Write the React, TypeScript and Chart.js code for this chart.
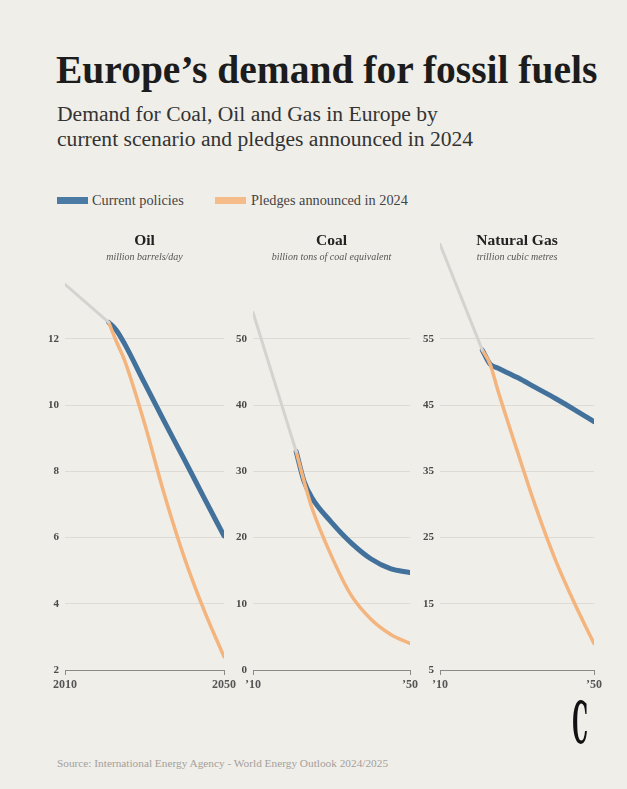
import React, { useEffect, useRef } from 'react';
import { Chart, registerables } from 'chart.js';

Chart.register(...registerables);

// ---------- DATA ----------
const axisYears = [2010, 2050];
const histYears = [2010, 2021];
const projYears = [2021, 2023, 2025, 2030, 2035, 2040, 2045, 2050];

// Oil – million barrels/day
const oilHistory = [13.65, 12.5];
const oilCurrent = [12.5, 12.25, 11.85, 10.67, 9.5, 8.36, 7.2, 6.05];
const oilPledges = [12.5, 11.9, 11.35, 9.45, 7.3, 5.4, 3.8, 2.4];
const oilYTicks = [2, 4, 6, 8, 10, 12];
const oilXLabels = ['2010', '2050'];

// Coal – billion tons of coal equivalent
const coalHistory = [54.0, 33.0];
const coalCurrent = [33.0, 28.5, 26.0, 22.3, 19.2, 16.8, 15.3, 14.7];
const coalPledges = [33.0, 28.5, 24.5, 17.2, 11.3, 7.7, 5.4, 4.0];
const coalYTicks = [0, 10, 20, 30, 40, 50];
const coalXLabels = ['\u201910', '\u201950'];

// Natural gas – trillion cubic metres
const gasHistory = [69.3, 53.3];
const gasCurrent = [53.3, 51.2, 50.6, 49.2, 47.6, 46.0, 44.3, 42.5];
const gasPledges = [53.3, 51.2, 47.3, 38.2, 29.4, 21.6, 15.0, 9.0];
const gasYTicks = [5, 15, 25, 35, 45, 55];
const gasXLabels = ['\u201910', '\u201950'];

const seriesNames = ['Current policies', 'Pledges announced in 2024'];

// ---------- STYLE ----------
const BG = '#f0eee9';
const BLUE = '#42719b';
const ORANGE = '#f4b47d';
const GREY = '#d5d3cf';
const SERIF = '"Liberation Serif", "DejaVu Serif", serif';

const CHART_TOP = 237;
const CHART_BOTTOM = 670;

type PanelProps = {
  left: number;
  right: number;
  title: string;
  unit: string;
  yTicks: number[];
  xLabels: string[];
  history: number[];
  current: number[];
  pledges: number[];
};

function Panel(p: PanelProps) {
  const ref = useRef<HTMLCanvasElement>(null);
  const yAxisW = 40;
  const padR = 18;
  const padT = 10;
  const xAxisH = 28;
  const padB = 2;
  const width = yAxisW + (p.right - p.left) + padR;
  const height = padT + (CHART_BOTTOM - CHART_TOP) + xAxisH + padB;
  const step = p.yTicks[1] - p.yTicks[0];
  const yMin = p.yTicks[0];
  const yMax = yMin + step * 6.5;

  useEffect(() => {
    const toPts = (xs: number[], ys: number[]) => xs.map((x, i) => ({ x, y: ys[i] }));
    const chart = new Chart(ref.current as HTMLCanvasElement, {
      type: 'line',
      data: {
        datasets: [
          { data: toPts(histYears, p.history), borderColor: GREY, borderWidth: 3 },
          { data: toPts(projYears, p.pledges), borderColor: ORANGE, borderWidth: 3.5, cubicInterpolationMode: 'monotone' },
          { data: toPts(projYears, p.current), borderColor: BLUE, borderWidth: 5, cubicInterpolationMode: 'monotone' },
        ],
      } as any,
      options: {
        animation: false,
        responsive: false,
        maintainAspectRatio: false,
        layout: { padding: { top: padT, right: padR, bottom: padB, left: 0 } },
        plugins: { legend: { display: false }, tooltip: { enabled: false }, title: { display: false } },
        elements: {
          point: { radius: 0 },
          line: { borderCapStyle: 'round', borderJoinStyle: 'round', fill: false, tension: 0 },
        },
        scales: {
          x: {
            type: 'linear',
            min: axisYears[0],
            max: axisYears[1],
            afterBuildTicks: (s: any) => {
              s.ticks = axisYears.map((v) => ({ value: v }));
            },
            afterFit: (s: any) => {
              s.height = xAxisH;
            },
            grid: { display: true, drawOnChartArea: false, drawTicks: true, tickLength: 5, color: '#8c8a86', lineWidth: 1 },
            border: { display: true, color: '#8c8a86', width: 1 },
            ticks: {
              autoSkip: false,
              maxRotation: 0,
              padding: 3,
              color: '#555',
              font: { family: SERIF, size: 12, weight: 'bold' },
              callback: (v: any) => p.xLabels[axisYears.indexOf(Number(v))] ?? '',
            },
          },
          y: {
            type: 'linear',
            min: yMin,
            max: yMax,
            afterBuildTicks: (s: any) => {
              s.ticks = p.yTicks.map((v) => ({ value: v }));
            },
            afterFit: (s: any) => {
              s.width = yAxisW;
            },
            grid: {
              drawTicks: false,
              color: (ctx: any) => (ctx.tick && ctx.tick.value === yMin ? 'rgba(0,0,0,0)' : '#dedbd6'),
              lineWidth: 1,
            },
            border: { display: false },
            ticks: {
              padding: 6,
              color: '#4a4a4a',
              font: { family: SERIF, size: 11, weight: 'bold' },
              callback: (v: any) => String(v),
            },
          },
        },
      } as any,
    });
    return () => chart.destroy();
  }, []);

  const cx = (p.left + p.right) / 2;
  return (
    <>
      <canvas
        ref={ref}
        width={width}
        height={height}
        style={{ position: 'absolute', left: p.left - yAxisW, top: CHART_TOP - padT, width, height }}
      />
      <div
        style={{
          position: 'absolute',
          left: cx - 100,
          width: 200,
          top: 231,
          textAlign: 'center',
          fontFamily: SERIF,
          fontWeight: 'bold',
          fontSize: 15.5,
          lineHeight: '18px',
          color: '#222',
        }}
      >
        {p.title}
      </div>
      <div
        style={{
          position: 'absolute',
          left: cx - 100,
          width: 200,
          top: 251,
          textAlign: 'center',
          fontFamily: SERIF,
          fontStyle: 'italic',
          fontSize: 10,
          lineHeight: '12px',
          color: '#555',
        }}
      >
        {p.unit}
      </div>
    </>
  );
}

export default function App() {
  return (
    <div
      style={{
        position: 'absolute',
        left: 0,
        top: 0,
        width: 627,
        height: 789,
        background: BG,
        overflow: 'hidden',
        fontFamily: SERIF,
      }}
    >
      <div
        style={{
          position: 'absolute',
          left: 56,
          top: 47,
          fontSize: 39.5,
          lineHeight: '46px',
          fontWeight: 'bold',
          color: '#1c1c1c',
          whiteSpace: 'nowrap',
        }}
      >
        Europe’s demand for fossil fuels
      </div>
      <div
        style={{
          position: 'absolute',
          left: 57,
          top: 102,
          fontSize: 21.6,
          lineHeight: '25px',
          color: '#333',
          whiteSpace: 'nowrap',
        }}
      >
        Demand for Coal, Oil and Gas in Europe by
        <br />
        current scenario and pledges announced in 2024
      </div>

      {/* legend */}
      <div style={{ position: 'absolute', left: 57, top: 197, width: 31, height: 7, background: '#4b7aa4' }} />
      <div style={{ position: 'absolute', left: 92, top: 192, fontSize: 14.3, lineHeight: '17px', color: '#444', whiteSpace: 'nowrap' }}>
        {seriesNames[0]}
      </div>
      <div style={{ position: 'absolute', left: 215, top: 197, width: 31, height: 7, background: '#f5bb88' }} />
      <div style={{ position: 'absolute', left: 251, top: 192, fontSize: 14.3, lineHeight: '17px', color: '#444', whiteSpace: 'nowrap' }}>
        {seriesNames[1]}
      </div>

      <Panel
        left={65}
        right={224}
        title="Oil"
        unit="million barrels/day"
        yTicks={oilYTicks}
        xLabels={oilXLabels}
        history={oilHistory}
        current={oilCurrent}
        pledges={oilPledges}
      />
      <Panel
        left={253}
        right={410}
        title="Coal"
        unit="billion tons of coal equivalent"
        yTicks={coalYTicks}
        xLabels={coalXLabels}
        history={coalHistory}
        current={coalCurrent}
        pledges={coalPledges}
      />
      <Panel
        left={440}
        right={594}
        title="Natural Gas"
        unit="trillion cubic metres"
        yTicks={gasYTicks}
        xLabels={gasXLabels}
        history={gasHistory}
        current={gasCurrent}
        pledges={gasPledges}
      />

      {/* logo */}
      <div
        style={{
          position: 'absolute',
          left: 559,
          top: 690,
          width: 40,
          textAlign: 'center',
          fontFamily: '"DejaVu Serif", serif',
          fontSize: 58,
          lineHeight: '66px',
          fontWeight: 'bold',
          color: '#111',
          transform: 'scaleX(0.34)',
        }}
      >
        C
      </div>

      <div
        style={{
          position: 'absolute',
          left: 57,
          top: 756,
          fontSize: 11.3,
          lineHeight: '14px',
          color: '#a3a09b',
          whiteSpace: 'nowrap',
        }}
      >
        Source: International Energy Agency - World Energy Outlook 2024/2025
      </div>
    </div>
  );
}
